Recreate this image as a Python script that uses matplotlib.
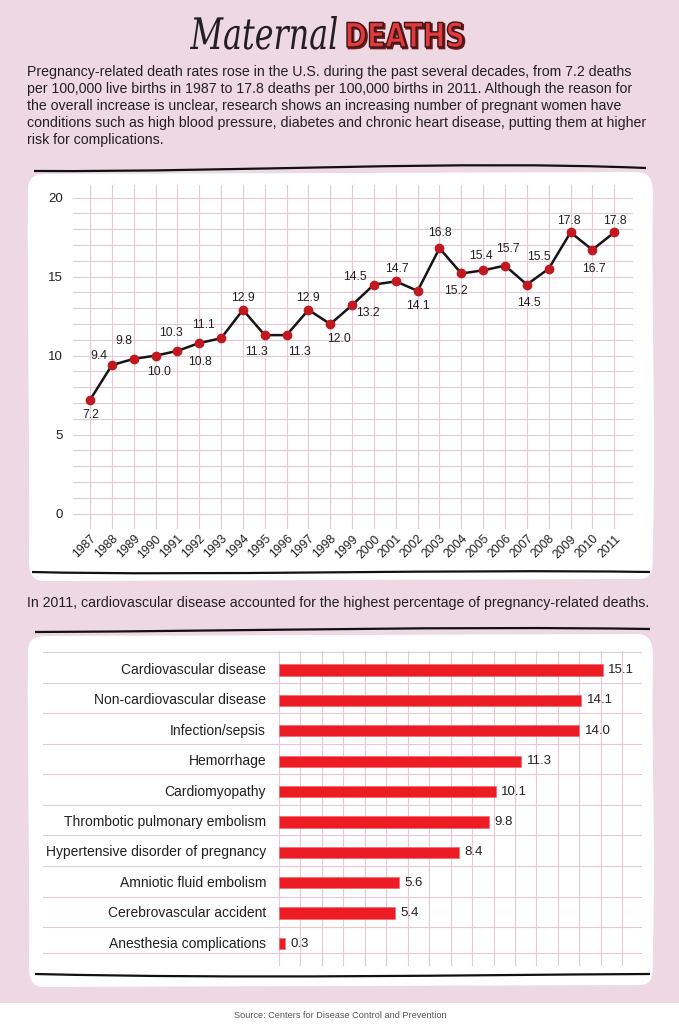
"""Maternal deaths infographic: line chart of death rates plus bar chart of causes."""

import matplotlib

matplotlib.use("Agg")

import matplotlib.pyplot as plt  # noqa: E402
from matplotlib.path import Path  # noqa: E402
from matplotlib.patches import PathPatch, Rectangle  # noqa: E402
from matplotlib.textpath import TextPath  # noqa: E402
from matplotlib.font_manager import FontProperties  # noqa: E402
from matplotlib.transforms import Affine2D  # noqa: E402

plt.rcParams["font.family"] = ["Liberation Sans", "DejaVu Sans"]

# ---- data -------------------------------------------------------------
years = ["1987", "1988", "1989", "1990", "1991", "1992", "1993", "1994",
         "1995", "1996", "1997", "1998", "1999", "2000", "2001", "2002",
         "2003", "2004", "2005", "2006", "2007", "2008", "2009", "2010",
         "2011"]
rates = [7.2, 9.4, 9.8, 10.0, 10.3, 10.8, 11.1, 12.9, 11.3, 11.3, 12.9,
         12.0, 13.2, 14.5, 14.7, 14.1, 16.8, 15.2, 15.4, 15.7, 14.5, 15.5,
         17.8, 16.7, 17.8]
rate_ticks = [0, 5, 10, 15, 20]

causes = ["Cardiovascular disease", "Non-cardiovascular disease",
          "Infection/sepsis", "Hemorrhage", "Cardiomyopathy",
          "Thrombotic pulmonary embolism",
          "Hypertensive disorder of pregnancy", "Amniotic fluid embolism",
          "Cerebrovascular accident", "Anesthesia complications"]
shares = [15.1, 14.1, 14.0, 11.3, 10.1, 9.8, 8.4, 5.6, 5.4, 0.3]

intro_lines = [
    "Pregnancy-related death rates rose in the U.S. during the past several decades, from 7.2 deaths",
    "per 100,000 live births in 1987 to 17.8 deaths per 100,000 births in 2011. Although the reason for",
    "the overall increase is unclear, research shows an increasing number of pregnant women have",
    "conditions such as high blood pressure, diabetes and chronic heart disease, putting them at higher",
    "risk for complications.",
]
middle_note = ("In 2011, cardiovascular disease accounted for the highest "
               "percentage of pregnancy-related deaths.")
source_note = "Source: Centers for Disease Control and Prevention"

# hand placement of the point labels (pixels right, pixels down)
label_offsets = [(1, 15), (-13, -9), (-10, -18), (4, 16), (-6, -18), (1, 19),
                 (-18, -13), (0, -12), (-8, 17), (13, 17), (0, -12), (9, 15),
                 (16, 8), (-19, -8), (1, -12), (0, 15), (0, -15), (-5, 18),
                 (-2, -14), (3, -17), (2, 18), (-10, -12), (-2, -11), (2, 19),
                 (1, -11)]

# ---- style ------------------------------------------------------------
W, H = 679, 1024
PINK = "#eed8e4"
GRID = "#e4c8d6"
INK = "#231f20"
DOT = "#c1191f"
BAR = "#ed1c24"

fig = plt.figure(figsize=(W / 100, H / 100), dpi=100, facecolor=PINK)

bg = fig.add_axes([0, 0, 1, 1])
bg.set_xlim(0, W)
bg.set_ylim(H, 0)
bg.axis("off")


def px_axes(left, top, right, bottom):
    ax = fig.add_axes([left / W, 1 - bottom / H, (right - left) / W, (bottom - top) / H])
    ax.set_facecolor("none")
    for s in ax.spines.values():
        s.set_visible(False)
    return ax


def curvy(segments):
    verts, codes = [segments[0]], [Path.MOVETO]
    for seg in segments[1:]:
        if len(seg) == 3:
            verts += list(seg)
            codes += [Path.CURVE4] * 3
        else:
            verts.append(seg)
            codes.append(Path.LINETO)
    return Path(verts, codes)


def panel(top, bottom):
    return curvy([
        (28, top + 16),
        ((28, top + 4), (34, top), (46, top)),
        (636, top - 2),
        ((650, top - 2), (653, top + 6), (653, top + 22)),
        ((651, top + 120), (656, bottom - 150), (653, bottom - 40)),
        ((652, bottom - 10), (656, bottom), (638, bottom)),
        (44, bottom + 2),
        ((32, bottom + 2), (29, bottom - 6), (29, bottom - 18)),
        ((30, bottom - 120), (27, top + 120), (28, top + 16)),
    ])


def stroke(x0, y0, c1, c2, x1, y1):
    return curvy([(x0, y0), (c1, c2, (x1, y1))])


bg.add_patch(PathPatch(panel(174, 579), facecolor="white", edgecolor="none"))
bg.add_patch(PathPatch(panel(636, 985), facecolor="white", edgecolor="none"))
for line in [stroke(34, 171, (250, 172), (450, 160), 646, 168),
             stroke(32, 572, (200, 576), (450, 569), 650, 572),
             stroke(35, 632, (250, 631), (450, 626), 650, 629),
             stroke(35, 974, (250, 979), (450, 975), 650, 974)]:
    bg.add_patch(PathPatch(line, facecolor="none", edgecolor="#111111", lw=1.6))
bg.add_patch(Rectangle((0, 1003), W, 21, facecolor="white", edgecolor="none"))


def fitted_word(text, prop, x0, y_base, width, height, **kw):
    tp = TextPath((0, 0), text, size=100, prop=prop)
    ext = tp.get_extents()
    tr = (Affine2D().translate(-ext.x0, 0)
          .scale(width / ext.width, -height / ext.y1)
          .translate(x0, y_base))
    return PathPatch(tr.transform_path(tp), **kw)


# title
bg.add_patch(fitted_word("Maternal", FontProperties(family="DejaVu Serif", style="italic"),
                         190, 49, 147, 33, facecolor=INK, edgecolor="none"))
deaths_prop = FontProperties(family="DejaVu Sans", weight="bold")
bg.add_patch(fitted_word("DEATHS", deaths_prop, 348.5, 48.5, 116, 25,
                         facecolor="#6b1a1a", edgecolor="#6b1a1a", lw=1.2))
bg.add_patch(fitted_word("DEATHS", deaths_prop, 347, 47, 116, 25,
                         facecolor="#e0393e", edgecolor="#3b1414", lw=1.0))

for i, line in enumerate(intro_lines):
    bg.text(27, 72 + 17.1 * i, line, fontsize=10.2, color=INK, va="center")
bg.text(27, 603, middle_note, fontsize=10.2, color=INK, va="center")
bg.text(340, 1016, source_note, fontsize=6.6, color="#555555", ha="center", va="center")

# ---- line chart ---------------------------------------------------------
ax1 = px_axes(73, 185, 633, 528.7)
xs = list(range(len(years)))
ax1.plot(xs, rates, color="#151515", lw=1.8, zorder=3)
ax1.plot(xs, rates, "o", ms=6, color=DOT, zorder=4)
for x, v, (dx, dy) in zip(xs, rates, label_offsets):
    ax1.annotate(f"{v:.1f}", (x, v), xytext=(dx, -dy), textcoords="offset pixels",
                 ha="center", va="center", fontsize=8.8, color=INK, zorder=5)
ax1.set_xlim(-0.78, 24.86)
ax1.set_ylim(-0.95, 20.8)
ax1.set_xticks(xs)
ax1.set_xticklabels(years, rotation=45, ha="right", rotation_mode="anchor", fontsize=8.8)
ax1.set_yticks(rate_ticks)
ax1.set_yticks(range(0, 21), minor=True)
ax1.tick_params(axis="both", which="both", length=0, colors=INK)
ax1.tick_params(axis="y", labelsize=9.5, pad=7)
ax1.tick_params(axis="x", pad=3)
ax1.grid(which="both", color=GRID, lw=0.8, zorder=0)
ax1.set_axisbelow(True)

# ---- bar chart ----------------------------------------------------------
ax2 = px_axes(43, 651, 642, 966)
rows = list(range(len(causes)))
ax2.barh(rows, shares, height=0.37, color=BAR, edgecolor="#f26a70", lw=0.5, zorder=3)
for r, name, v in zip(rows, causes, shares):
    ax2.text(-0.6, r, name, ha="right", va="center", fontsize=10, color=INK)
    ax2.text(v + 0.25, r, f"{v:.1f}", ha="left", va="center", fontsize=9.5, color=INK)
ax2.set_xlim(-11.0, 16.92)
ax2.set_ylim(9.74, -0.625)
for gx in range(0, 17):
    ax2.axvline(gx, color=GRID, lw=0.8, zorder=0)
for gy in [-0.6, 0.42, 1.42, 2.42, 3.43, 4.44, 5.44, 6.45, 7.46, 8.47, 9.31]:
    ax2.axhline(gy, color=GRID, lw=0.8, zorder=0)
ax2.set_xticks([])
ax2.set_yticks([])

fig.savefig("out.png", dpi=100, facecolor=PINK)
